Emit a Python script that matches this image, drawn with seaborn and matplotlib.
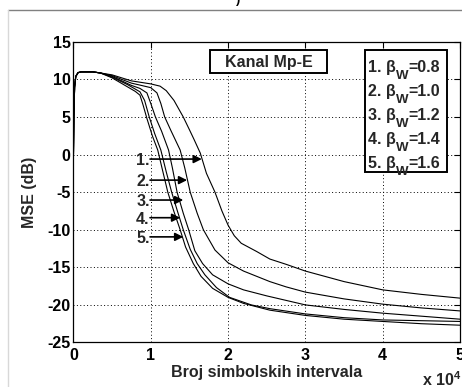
import numpy as np
import pandas as pd
import matplotlib
matplotlib.use("Agg")
import matplotlib.pyplot as plt
from matplotlib.patches import Rectangle
from matplotlib.lines import Line2D
from matplotlib.transforms import IdentityTransform
import seaborn as sns

# ---------------- data (x in units of 1e4 symbol intervals, y in dB) ----------------
start_x = [0.0, 0.005, 0.015, 0.03, 0.06, 0.1, 0.15, 0.25, 0.35]
start_y = [0.0, 5.0, 9.0, 10.4, 10.9, 11.0, 11.0, 11.0, 10.85]

c1_x = [0.5, 0.75, 1.0, 1.12, 1.2, 1.3, 1.42, 1.5, 1.56, 1.64, 1.72, 1.83, 1.92, 2.0, 2.08, 2.17,
        2.37, 2.54, 2.75, 3.0, 3.5, 4.0, 4.5, 5.0]
c1_y = [10.6, 9.8, 9.4, 9.1, 8.5, 7.2, 5.0, 3.3, 2.0, 0.2, -2.5, -5.0, -7.5, -9.4, -10.8, -11.8,
        -12.9, -13.9, -14.6, -15.5, -16.9, -18.0, -18.6, -19.1]

c2_x = [0.5, 0.75, 0.86, 1.0, 1.08, 1.13, 1.18, 1.26, 1.38, 1.44, 1.51, 1.6, 1.68, 1.83, 2.0, 2.2,
        2.54, 2.75, 3.0, 3.5, 4.0, 4.5, 5.0]
c2_y = [10.5, 9.5, 9.24, 8.9, 8.2, 6.8, 5.0, 3.2, 0.6, -1.8, -5.0, -7.8, -10.0, -12.7, -14.4, -15.5,
        -16.9, -17.6, -18.3, -19.2, -19.9, -20.4, -20.8]

c3_x = [0.5, 0.75, 0.86, 0.95, 1.0, 1.06, 1.14, 1.23, 1.28, 1.34, 1.42, 1.49, 1.57, 1.67, 1.8, 2.0,
        2.2, 2.5, 2.75, 3.0, 3.5, 4.0, 4.5, 5.0]
c3_y = [10.4, 9.2, 8.8, 8.2, 6.8, 5.0, 3.1, 0.6, -1.8, -5.0, -7.8, -10.0, -12.8, -14.5, -16.0, -17.2,
        -18.0, -18.8, -19.4, -20.0, -20.6, -21.1, -21.5, -21.9]

c4_x = [0.5, 0.7, 0.86, 0.92, 0.98, 1.05, 1.13, 1.2, 1.27, 1.35, 1.42, 1.51, 1.6, 1.7, 1.85, 2.02,
        2.3, 2.54, 3.0, 3.5, 4.0, 4.5, 5.0]
c4_y = [10.3, 9.3, 8.35, 7.2, 5.0, 2.8, 0.6, -2.3, -5.0, -7.7, -10.0, -12.6, -14.5, -16.0, -17.7, -19.0,
        -20.0, -20.5, -21.2, -21.7, -22.0, -22.1, -22.2]

c5_x = [0.5, 0.7, 0.8, 0.86, 0.9, 0.95, 1.02, 1.09, 1.15, 1.22, 1.3, 1.38, 1.45, 1.55, 1.65, 1.8,
        2.0, 2.2, 2.54, 3.0, 3.5, 4.0, 4.5, 5.0]
c5_y = [10.2, 9.0, 8.4, 7.9, 6.6, 4.8, 2.5, 0.6, -2.0, -5.0, -7.6, -10.0, -12.3, -14.5, -16.2, -17.8,
        -19.0, -19.8, -20.7, -21.4, -21.9, -22.2, -22.5, -22.7]

curve_names = ["1", "2", "3", "4", "5"]
legend_prefix = ["1. \u03b2", "2. \u03b2", "3. \u03b2", "4. \u03b2", "5. \u03b2"]
legend_sub = "W"
legend_values = ["=0.8", "=1.0", "=1.2", "=1.4", "=1.6"]
arrow_labels = ["1.", "2.", "3.", "4.", "5."]
arrow_y = [-0.6, -3.4, -6.05, -8.4, -10.95]
arrow_tip_x = [1.66, 1.47, 1.42, 1.38, 1.42]
arrow_start_x = 0.99

x_ticks = [0, 1, 2, 3, 4, 5]
y_ticks = [-25, -20, -15, -10, -5, 0, 5, 10, 15]
box_title = "Kanal Mp-E"
x_label = "Broj simbolskih intervala"
y_label = "MSE (dB)"

# ---------------- build long table ----------------
rows = []
for name, xs, ys in zip(curve_names,
                        [c1_x, c2_x, c3_x, c4_x, c5_x],
                        [c1_y, c2_y, c3_y, c4_y, c5_y]):
    for i, (xv, yv) in enumerate(zip(start_x + xs, start_y + ys)):
        rows.append({"curve": name, "order": i, "x": xv, "y": yv})
df = pd.DataFrame(rows)

# ---------------- style ----------------
sns.set_style("white")
plt.rcParams["font.family"] = ["Liberation Sans", "DejaVu Sans"]
plt.rcParams["font.weight"] = "bold"
plt.rcParams["mathtext.fontset"] = "custom"
plt.rcParams["mathtext.rm"] = "Liberation Sans:bold"
plt.rcParams["mathtext.it"] = "Liberation Sans:bold"
plt.rcParams["mathtext.bf"] = "Liberation Sans:bold"
plt.rcParams["mathtext.default"] = "bf"

FS = 11.5
DPI = 100
fig = plt.figure(figsize=(4.62, 3.87), dpi=DPI)
fig.patch.set_facecolor("white")
ax = fig.add_axes([0.159, 0.115, 0.8368, 0.777])

sns.lineplot(data=df, x="x", y="y", hue="curve", units=None, estimator=None,
             sort=False, palette=["black"] * 5, linewidth=0.8, legend=False, ax=ax)

ax.set_xlim(0, 5)
ax.set_ylim(-25, 15)
ax.set_xticks(x_ticks)
ax.set_yticks(y_ticks)
ax.set_xticklabels([str(t) for t in x_ticks])
ax.set_yticklabels([str(t) for t in y_ticks])
ax.grid(True, linestyle=(0, (1, 2.5)), color="black", linewidth=0.7)
for s in ax.spines.values():
    s.set_color("black")
    s.set_linewidth(0.9)
    s.set_visible(True)
ax.tick_params(direction="in", length=4, width=0.8, top=True, right=True,
               labelsize=FS, colors="black")
ax.tick_params(axis="x", pad=4)
ax.tick_params(axis="y", pad=2)
for lab in ax.get_xticklabels() + ax.get_yticklabels():
    lab.set_fontweight("bold")

ax.set_xlabel(x_label, fontsize=FS, fontweight="bold")
ax.set_ylabel(y_label, fontsize=FS, fontweight="bold")
ax.xaxis.set_label_coords(0.5, -0.075)
ax.yaxis.set_label_coords(-0.095, 0.5)

# x 10^4
fig.text(422 / 462, 1 - 380 / 387, "x 10$^{4}$", fontsize=FS, fontweight="bold",
         ha="left", va="center")

# arrows and labels
for lab, yv, tx in zip(arrow_labels, arrow_y, arrow_tip_x):
    ax.annotate("", xy=(tx, yv), xytext=(arrow_start_x, yv),
                arrowprops=dict(arrowstyle="-|>", color="black", lw=1.2,
                                mutation_scale=12, shrinkA=0, shrinkB=0))
    ax.text(arrow_start_x - 0.005, yv - 0.25, lab, fontsize=FS, fontweight="bold",
            ha="right", va="center")

# Kanal box
ax.add_patch(Rectangle((0.3533, 0.895), 0.6560 - 0.3533, 0.9724 - 0.895,
                       transform=ax.transAxes, facecolor="white", edgecolor="black",
                       linewidth=1.4, zorder=5))
ax.text(0.5045, 0.917, box_title, transform=ax.transAxes, fontsize=FS, fontweight="bold",
        ha="center", va="baseline", zorder=6)

# legend box
ax.add_patch(Rectangle((0.754, 0.567), 0.966 - 0.754, 0.9724 - 0.567,
                       transform=ax.transAxes, facecolor="white", edgecolor="black",
                       linewidth=1.4, zorder=5))
renderer = fig.canvas.get_renderer()
H = 387
for i, (pre, val) in enumerate(zip(legend_prefix, legend_values)):
    py = 72 + 24 * i          # baseline, pixels from top
    base_disp = H - py        # display coords (origin bottom-left)
    x0 = 368
    t1 = fig.text(x0, base_disp, pre, transform=IdentityTransform(), fontsize=FS,
                  fontweight="bold", ha="left", va="baseline", zorder=6)
    bb1 = t1.get_window_extent(renderer)
    t2 = fig.text(bb1.x1, base_disp - 7, legend_sub, transform=IdentityTransform(),
                  fontsize=9.5, fontweight="bold", ha="left", va="baseline", zorder=6)
    bb2 = t2.get_window_extent(renderer)
    fig.text(bb2.x1, base_disp, val, transform=IdentityTransform(), fontsize=FS,
             fontweight="bold", ha="left", va="baseline", zorder=6)

# page frame fragments
fig.add_artist(Line2D([8 / 462, 1], [1 - 10 / 387, 1 - 10 / 387], transform=fig.transFigure,
                      color="#808080", linewidth=1.0))
fig.add_artist(Line2D([8 / 462, 8 / 462], [0, 1 - 10 / 387], transform=fig.transFigure,
                      color="#d8d8d8", linewidth=1.0))
fig.text(238 / 462, 1.0, ")", fontsize=9, ha="center", va="center", color="black")

fig.savefig("out.png", dpi=DPI)
